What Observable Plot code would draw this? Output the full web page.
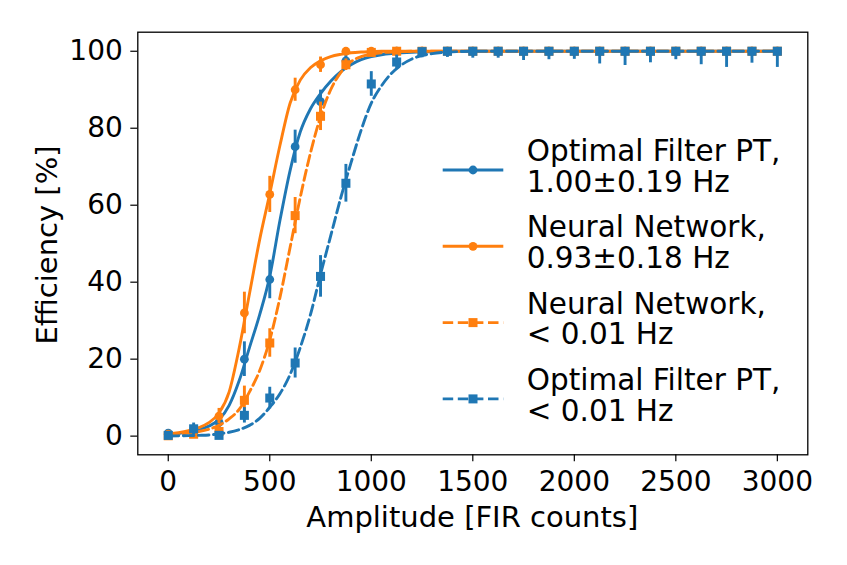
<!DOCTYPE html>
<html><head><meta charset="utf-8">
<script src="https://cdn.jsdelivr.net/npm/d3@7"></script>
<script src="https://cdn.jsdelivr.net/npm/@observablehq/plot@0.6"></script>
<style>body{margin:0;background:#fff} svg{display:block}</style>
</head><body><div id="chart"></div>
<script>
// ---- measured points (x every 125 FIR counts) ----
const pointX = [0,125,250,375,500,625,750,875,1000,1125,1250,1375,1500,1625,1750,1875,2000,2125,2250,2375,2500,2625,2750,2875,3000];

const ofVal = [0.8,1.5,3.6,20,40.7,75.2,86.9,97.5,99.6,100,100,100,100,100,100,100,100,100,100,100,100,100,100,100,100];
const ofErr = [0.8,1.2,1.8,4.5,5,4.3,3,1.8,0.8,0.5,0.5,0.5,0.5,0.5,0.5,0.5,0.5,0.5,0.5,0.5,0.5,0.5,0.5,0.5,0.5];

const nnVal = [0.5,1.5,5.2,32,62.8,90,96.5,100,100,100,100,100,100,100,100,100,100,100,100,100,100,100,100,100,100];
const nnErr = [0.6,1.2,2,5.4,4.7,3,2,0.6,0.4,0.3,0.3,0.3,0.3,0.3,0.3,0.3,0.3,0.3,0.3,0.3,0.3,0.3,0.3,0.3,0.3];

const nnLowVal = [0.1,0.5,1.2,9.3,24.2,57.3,83.1,96.5,99.7,100,100,100,100,100,100,100,100,100,100,100,100,100,100,100,100];
const nnLowErr = [0.3,0.6,1,3.7,3.7,4.7,3.7,1.5,0.6,0.5,0.5,0.5,0.5,0.5,0.5,0.5,0.5,0.5,0.5,0.5,0.5,0.5,0.5,0.5,0.5];

const ofLowVal = [0.2,1.9,0.2,5.4,9.9,19,41.5,65.7,91.5,97.2,99.9,100,100,100,100,100,100,100,100,100,100,100,100,100,100];
const ofLowErr = [0.3,1.5,0.5,2,2.8,3.9,5.4,4.9,3.2,1.8,1.6,1.6,1.8,1.8,2.4,2.2,2.1,3.3,3.7,3,2.2,3.5,4.2,3.1,4.2];

// ---- fitted curves ----
const curveX = [0,50,100,150,200,250,300,350,400,450,500,550,600,650,700,750,800,850,900,950,1000,1050,1100,1150,1200,1250,1300,1350,1400,1450,1500,2000,2500,3000];
const ofFit    = [0.5,0.7,1.1,1.7,2.6,4.3,8,14.5,23,31.5,41.5,56,69,79,85,89,92.2,94.7,96.5,97.8,98.6,99.1,99.4,99.6,99.75,99.85,99.9,99.95,100,100,100,100,100,100];
const nnFit    = [0.6,0.9,1.4,2.2,3.5,6,11.5,23,37,51,63,75.5,86.5,92.5,95.7,97.5,98.6,99.2,99.6,99.8,99.9,100,100,100,100,100,100,100,100,100,100,100,100,100];
const nnLowFit = [0.3,0.5,0.8,1.2,1.8,2.8,4.5,7,11.5,17,25,36,49,62,73.5,83,90,94.5,97.3,98.6,99.3,99.6,99.8,99.9,100,100,100,100,100,100,100,100,100,100];
const ofLowFit = [0.05,0.08,0.12,0.2,0.3,0.6,1,1.7,2.8,4.6,7.5,11,16,23,31.5,42,52,62,71,79.5,86.5,91,94.3,96.5,98,98.9,99.4,99.7,99.85,99.95,100,100,100,100];

const xTicks = [0,500,1000,1500,2000,2500,3000];
const yTicks = [0,20,40,60,80,100];

const legendLines1 = ["Optimal Filter PT,","Neural Network,","Neural Network,","Optimal Filter PT,"];
const legendLines2 = ["1.00\u00b10.19 Hz","0.93\u00b10.18 Hz","< 0.01 Hz","< 0.01 Hz"];

const BLUE = "#1f77b4", ORANGE = "#ff7f0e";
const DASH = "10.5,4.6";
const series = [
  {vals: ofVal,    errs: ofErr,    fit: ofFit,    color: BLUE,   symbol: "circle", dash: null},
  {vals: nnVal,    errs: nnErr,    fit: nnFit,    color: ORANGE, symbol: "circle", dash: null},
  {vals: nnLowVal, errs: nnLowErr, fit: nnLowFit, color: ORANGE, symbol: "square", dash: DASH},
  {vals: ofLowVal, errs: ofLowErr, fit: ofLowFit, color: BLUE,   symbol: "square", dash: DASH}
];

const LW = 2.9;
const seriesMarks = series.flatMap(s => {
  const pts = pointX.map((x, i) => ({x, y: s.vals[i],
    lo: Math.max(0, s.vals[i] - s.errs[i]), hi: Math.min(100, s.vals[i] + s.errs[i])}));
  const fit = curveX.map((x, i) => ({x, y: s.fit[i]}));
  const r = s.symbol === "circle" ? 4.4 : 5.1;
  return [
    Plot.line(fit, {x: "x", y: "y", stroke: s.color, strokeWidth: LW, curve: "monotone-x",
      strokeDasharray: s.dash ?? undefined}),
    Plot.ruleX(pts, {x: "x", y1: "lo", y2: "hi", stroke: s.color, strokeWidth: LW}),
    Plot.dot(pts, {x: "x", y: "y", fill: s.color, stroke: "none", r, symbol: s.symbol})
  ];
});

const plot = Plot.plot({
  width: 847, height: 565,
  marginLeft: 137.3, marginRight: 39.7, marginTop: 31.7, marginBottom: 110.7,
  x: {domain: [-150, 3150]},
  y: {domain: [-4.85, 104.95]},
  style: {fontFamily: "DejaVu Sans", fontSize: "28px", color: "black", background: "white", overflow: "visible"},
  marks: [
    Plot.axisX({ticks: xTicks, tickFormat: d => String(d), tickSize: 7, tickPadding: 9, label: null, strokeWidth: 1.2}),
    Plot.axisY({ticks: yTicks, tickFormat: d => String(d), tickSize: 7, tickPadding: 8, label: null, strokeWidth: 1.2}),
    ...seriesMarks,
    Plot.frame({stroke: "black", strokeWidth: 1.3})
  ]
});

const svg = d3.select(plot);
// axis titles
svg.append("text").attr("x", 472.3).attr("y", 527).attr("text-anchor", "middle")
  .attr("font-family", "DejaVu Sans").attr("font-size", 29).attr("fill", "black")
  .text("Amplitude [FIR counts]");
svg.append("text").attr("transform", "translate(57,245) rotate(-90)").attr("text-anchor", "middle")
  .attr("font-family", "DejaVu Sans").attr("font-size", 29).attr("fill", "black")
  .text("Efficiency [%]");

// legend
const leg = svg.append("g").attr("font-family", "DejaVu Sans").attr("font-size", 29.5)
  .attr("fill", "black").attr("text-anchor", "start");
series.forEach((s, i) => {
  const ly = 170 + i * 76.3;
  const g = leg.append("g");
  g.append("line").attr("x1", 442.7).attr("x2", 503.3).attr("y1", ly).attr("y2", ly)
    .attr("stroke", s.color).attr("stroke-width", LW)
    .attr("stroke-dasharray", s.dash ? s.dash : null);
  if (s.symbol === "circle") {
    g.append("circle").attr("cx", 473).attr("cy", ly).attr("r", 4.4).attr("fill", s.color);
  } else {
    g.append("rect").attr("x", 473 - 4.5).attr("y", ly - 4.5).attr("width", 9).attr("height", 9).attr("fill", s.color);
  }
  g.append("text").attr("x", 526.7).attr("y", ly - 9).attr("text-anchor", "start").text(legendLines1[i]);
  g.append("text").attr("x", 526.7).attr("y", ly + 21.7).attr("text-anchor", "start").text(legendLines2[i]);
});

document.getElementById("chart").appendChild(plot);
</script>
</body></html>
